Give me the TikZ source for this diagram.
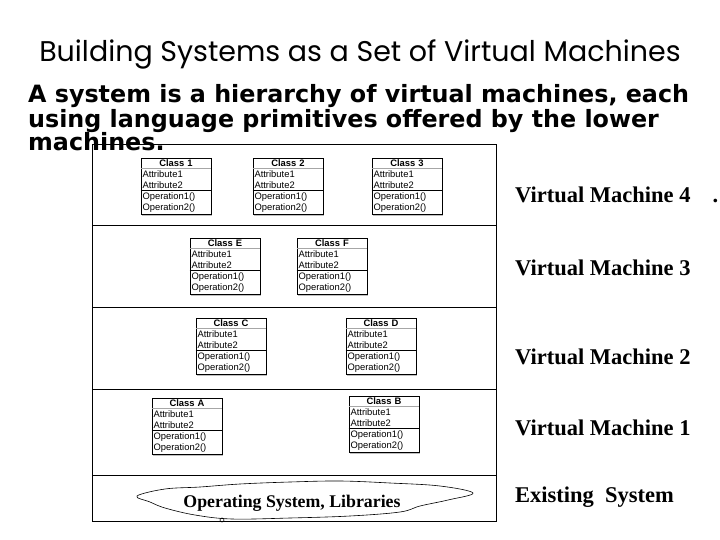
\documentclass[tikz,border=0pt]{standalone}
\usepackage{fontspec}
\setmainfont{Liberation Serif}
\newfontfamily\titlefont{Poppins}
\newfontfamily\subfont{DejaVu Sans}
\newfontfamily\classfont{Liberation Sans}
\usetikzlibrary{shapes.multipart,shadows}
\tikzset{
  umlclass/.style={draw, fill=white, line width=0.6pt, rectangle split, rectangle split parts=3,
    rectangle split draw splits=false,
    text width=67pt, inner xsep=1.5pt, inner ysep=1.6pt,
    font=\classfont\fontsize{9.4}{11}\selectfont,
    drop shadow={fill=black!55, opacity=0.45, shadow xshift=1pt, shadow yshift=-2.5pt}},
  vmlabel/.style={anchor=base west, inner sep=0pt, font=\bfseries\fontsize{22.5}{26}\selectfont},
  subline/.style={anchor=base west, inner sep=0pt, font=\subfont\bfseries\fontsize{23.8}{28}\selectfont},
  frame/.style={draw, line width=0.8pt},
  headsplit/.style={draw=black!35, line width=0.5pt},
  opsplit/.style={draw, line width=0.6pt}
}
\newcommand{\umlbox}[3]{\node[umlclass] (#1) at (#2) {\makebox[67pt][c]{\textbf{#3}}\nodepart{two}\raggedright Attribute1\\Attribute2\nodepart{three}\raggedright Operation1()\\Operation2()};
  \draw[headsplit] (#1.one split west) -- (#1.one split east);
  \draw[opsplit] (#1.two split west) -- (#1.two split east);}
\begin{document}
\begin{tikzpicture}[x=1pt,y=-1pt]
\useasboundingbox (0,0) rectangle (720,540);
\fill[white] (0,0) rectangle (720,540);
% title
\node[anchor=base, inner sep=0pt, font=\titlefont\fontsize{28.5}{32}\selectfont] (title) at (360,62) {Building Systems as a Set of Virtual Machines};
% subtitle
\node[subline] (sub1) at (28,103) {A system is a hierarchy of virtual machines, each};
\node[subline] (sub2) at (28,128) {using language primitives offered by the lower};
\node[subline] (sub3) at (28,151) {machines.};
% frame and layers
\draw[frame] (92,144) rectangle (496,521);
\draw[frame] (92,225) -- (496,225);
\draw[frame] (92,307) -- (496,307);
\draw[frame] (92,389) -- (496,389);
\draw[frame] (92,475) -- (496,475);
% classes
\umlbox{c1}{176,186}{Class 1}
\umlbox{c2}{288,186}{Class 2}
\umlbox{c3}{407,186}{Class 3}
\umlbox{cE}{225,266}{Class E}
\umlbox{cF}{332,266}{Class F}
\umlbox{cC}{231,346}{Class C}
\umlbox{cD}{381,346}{Class D}
\umlbox{cA}{187,426}{Class A}
\umlbox{cB}{384,424}{Class B}
% cloud
\draw[line width=0.6pt] plot[smooth cycle, tension=0.6] coordinates {(137,496) (165,489) (200,487) (240,484) (290,482) (340,481) (390,483) (440,486) (473,493) (448,500) (420,506) (400,512) (350,516) (290,518) (232,519) (195,515) (165,508) (150,502)};
\draw[line width=0.6pt] (222,520) circle (2);
\node[font=\bfseries\fontsize{17.8}{20}\selectfont, inner sep=0pt] (os) at (292,503) {Operating System, Libraries};
% labels
\node[vmlabel] (vm4) at (515,203) {Virtual Machine 4\hspace{22pt}.};
\node[vmlabel] (vm3) at (515,275) {Virtual Machine 3};
\node[vmlabel] (vm2) at (515,364) {Virtual Machine 2};
\node[vmlabel] (vm1) at (515,435) {Virtual Machine 1};
\node[vmlabel] (es) at (515,502) {Existing\ \ System};
\end{tikzpicture}
\end{document}
